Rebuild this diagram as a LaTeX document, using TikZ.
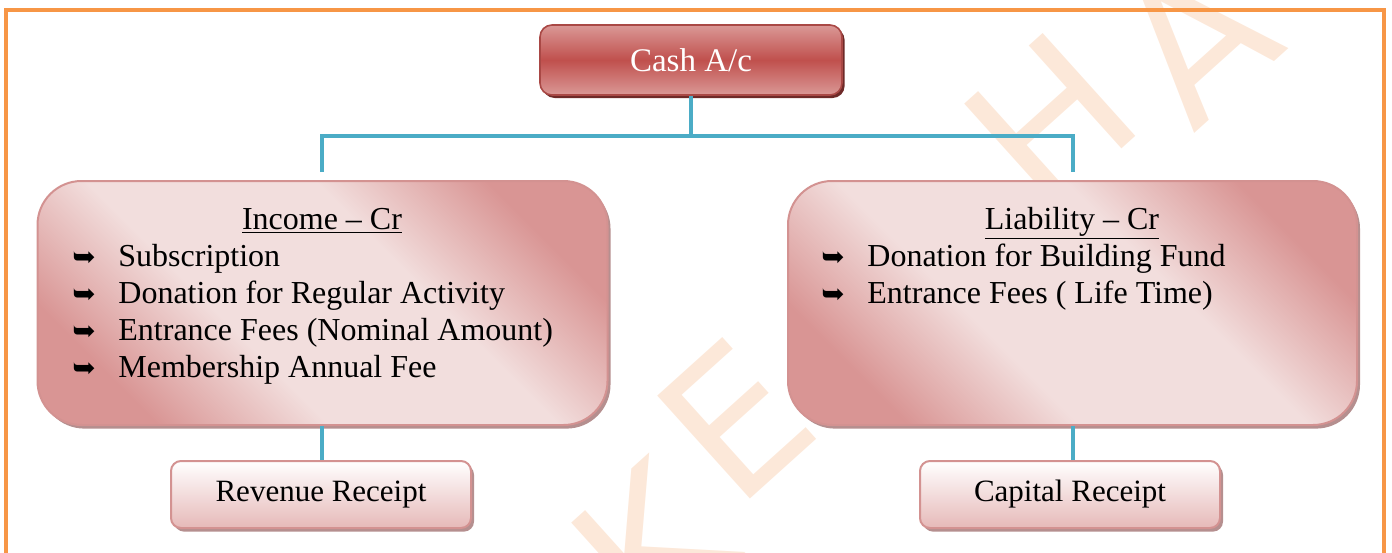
\documentclass[tikz,border=0pt]{standalone}
\usepackage{fontspec}
\setmainfont{Liberation Serif}
\newfontfamily\dejavu{DejaVu Sans}
\usetikzlibrary{shadows}
\definecolor{frameor}{HTML}{F79646}
\definecolor{aqua}{HTML}{4BACC6}
\definecolor{redmain}{HTML}{C0504D}
\definecolor{redlight}{HTML}{DA9896}
\definecolor{redborder}{HTML}{A94845}
\definecolor{redshadow}{HTML}{6E2A28}
\definecolor{pinklight}{HTML}{F2DEDD}
\definecolor{pinkdark}{HTML}{D99594}
\definecolor{pinkmid}{HTML}{E6B9B8}
\definecolor{pinkborder}{HTML}{D39291}
\definecolor{pinkshadow}{HTML}{B58F8F}
\definecolor{wmcol}{HTML}{FCE8D9}
\pgfdeclareverticalshading{bigshade}{100bp}{color(0bp)=(pinkdark); color(25bp)=(pinkdark); color(40bp)=(pinklight); color(60bp)=(pinklight); color(75bp)=(pinkdark); color(100bp)=(pinkdark)}
\tikzset{
  conn/.style={draw=aqua, line width=1.6pt},
  cashbox/.style={rounded corners=6pt, draw=redborder, line width=0.8pt,
    top color=redlight, bottom color=redlight, middle color=redmain,
    drop shadow={shadow xshift=1.3pt, shadow yshift=-1.5pt, fill=redshadow, opacity=1},
    text=white, font=\fontsize{16.5}{19}\selectfont},
  bigbox/.style={rounded corners=22pt, draw=pinkborder, line width=1pt,
    shade, shading=bigshade, shading angle=-45,
    drop shadow={shadow xshift=1.5pt, shadow yshift=-1.8pt, fill=pinkshadow, opacity=1}},
  smallbox/.style={rounded corners=5pt, draw=pinkborder, line width=1pt,
    top color=white, bottom color=pinkmid,
    drop shadow={shadow xshift=1.5pt, shadow yshift=-1.8pt, fill=pinkshadow, opacity=1},
    font=\fontsize{15.5}{18}\selectfont},
  bodytxt/.style={font=\fontsize{16}{18.5}\selectfont, inner sep=0pt, align=left},
  titletxt/.style={font=\fontsize{16}{18.5}\selectfont, inner sep=0pt, anchor=base},
  wmletter/.style={rotate=42, text=wmcol, inner sep=0pt, font=\dejavu\fontsize{95}{95}\selectfont}
}
\newcommand{\bul}{\makebox[23pt][l]{{\dejavu\bfseries\fontsize{14}{16}\selectfont ➥}}}
\begin{document}
\begin{tikzpicture}[x=0.5pt,y=-0.5pt]
\useasboundingbox (0,0) rectangle (1392,552);
\begin{scope}
\clip (0,0) rectangle (1392,552);
\node[wmletter] (wmk) at (650,545) {K};
\node[wmletter] (wme) at (735,420) {E};
\node[wmletter] (wmt) at (890,275) {T};
\node[wmletter] (wmh) at (1050,120) {H};
\node[wmletter] (wma) at (1195,40) {A};
\draw[frameor, line width=2pt] (6,570) -- (6,10) -- (1384,10) -- (1384,570);
\end{scope}

\node[cashbox, minimum width=151pt, minimum height=35pt] (cash) at (691,60) {Cash A/c};

\node[bigbox, minimum width=285pt, minimum height=122pt] (inc) at (322.5,303) {};
\node[bigbox, minimum width=284.5pt, minimum height=122pt] (lia) at (1072.5,303) {};
\node[smallbox, minimum width=150pt, minimum height=33.5pt] (rev) at (321,494.5) {Revenue Receipt};
\node[smallbox, minimum width=150pt, minimum height=33.5pt] (cap) at (1070,494.5) {Capital Receipt};

\node[titletxt] (inctitle) at (322,229) {\underline{Income -- Cr}};
\node[bodytxt, anchor=west] (incitems) at (72,314.5) {\bul Subscription\\ \bul Donation for Regular Activity\\ \bul Entrance Fees (Nominal Amount)\\ \bul Membership Annual Fee};
\node[titletxt] (liatitle) at (1072,229) {\underline{Liability -- Cr}};
\node[bodytxt, anchor=west] (liaitems) at (821,277.5) {\bul Donation for Building Fund\\ \bul Entrance Fees ( Life Time)};

\coordinate (bar) at (0,136);
\coordinate (lt) at (322,172);
\coordinate (rt) at (1073,172);
\draw[conn] (cash.south) -- (cash.south |- bar);
\draw[conn] (lt) -- (lt |- bar) -- (rt |- bar) -- (rt);
\draw[conn] (inc.south -| lt) -- (rev.north -| lt);
\draw[conn] (lia.south -| rt) -- (cap.north -| rt);
\end{tikzpicture}
\end{document}
